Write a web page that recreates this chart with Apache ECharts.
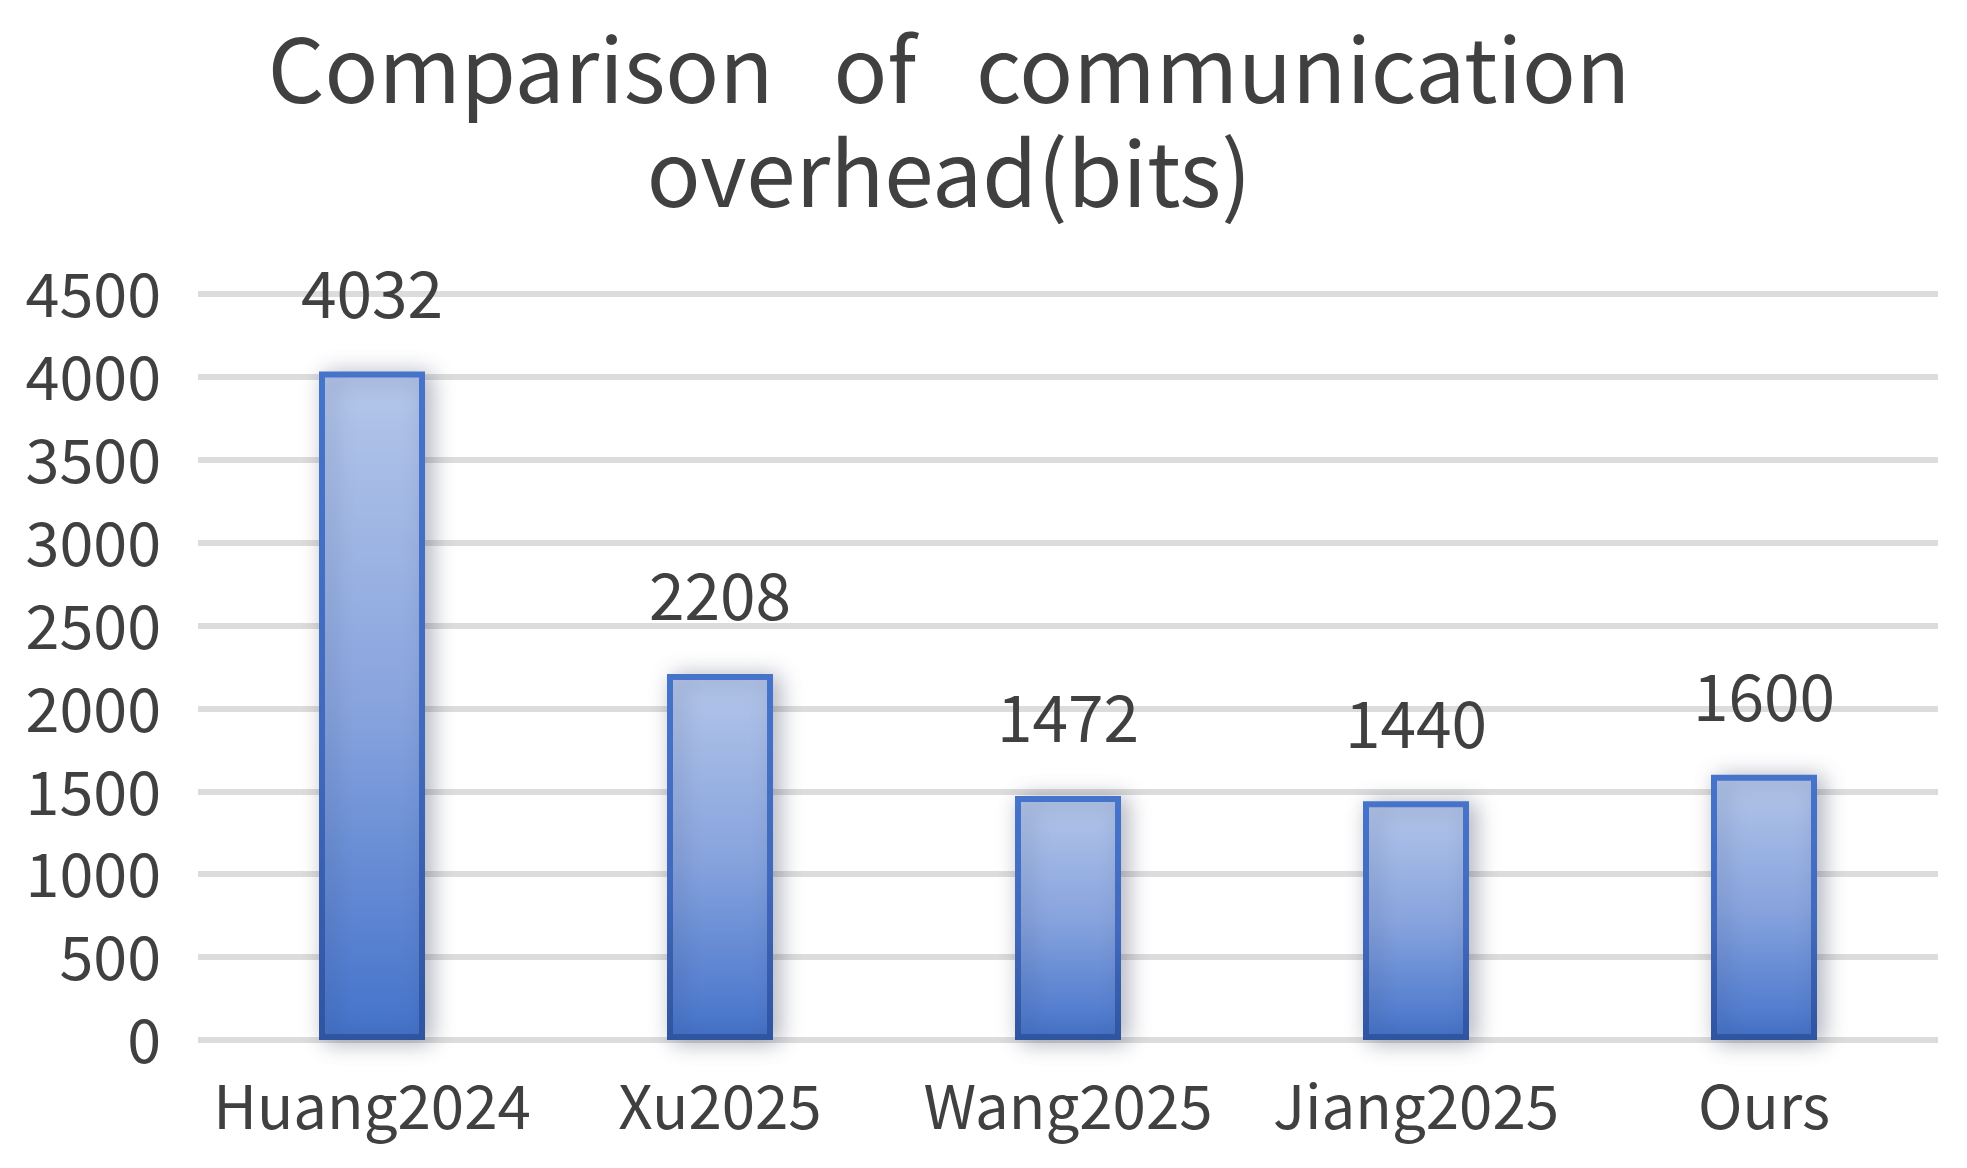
<!DOCTYPE html>
<html>
<head>
<meta charset="utf-8">
<title>Comparison of communication overhead</title>
<script src="https://cdn.jsdelivr.net/npm/echarts@6/dist/echarts.min.js"></script>
<style>
  html, body { margin: 0; padding: 0; background: #fff; }
  #main { width: 1967px; height: 1168px; }
</style>
</head>
<body>
<div id="main"></div>
<script>
// 数据
var categories = ['Huang2024', 'Xu2025', 'Wang2025', 'Jiang2025', 'Ours'];
var overheadBits = [4032, 2208, 1472, 1440, 1600];
var yTicks = { min: 0, max: 4500, interval: 500 };

var font = '"Noto Sans CJK SC", "Noto Sans", sans-serif';
var textColor = '#404040';

var chart = echarts.init(document.getElementById('main'));

var option = {
    backgroundColor: '#ffffff',
    animation: false,
    title: {
        text: 'Comparison   of   communication\noverhead(bits)',
        left: 944,
        top: 12,
        textAlign: 'center',
        textStyle: {
            fontFamily: font,
            fontSize: 89,
            fontWeight: 'normal',
            color: textColor,
            lineHeight: 104
        }
    },
    grid: {
        left: 198,
        right: 29,
        top: 294,
        bottom: 128
    },
    xAxis: {
        type: 'category',
        data: categories,
        axisLine: { show: false },
        axisTick: { show: false },
        axisLabel: {
            interval: 0,
            fontFamily: font,
            fontSize: 60,
            color: textColor,
            margin: 36
        }
    },
    yAxis: {
        type: 'value',
        min: yTicks.min,
        max: yTicks.max,
        interval: yTicks.interval,
        axisLine: { show: false },
        axisTick: { show: false },
        axisLabel: {
            fontFamily: font,
            fontSize: 61,
            color: textColor,
            margin: 37,
            formatter: function (v) { return String(v); }
        },
        splitLine: {
            lineStyle: { color: '#dcdcdc', width: 6 }
        }
    },
    series: [{
        type: 'bar',
        data: overheadBits,
        barWidth: 106,
        itemStyle: {
            color: new echarts.graphic.LinearGradient(0, 0, 0, 1, [
                { offset: 0, color: '#b4c6e9' },
                { offset: 0.5, color: '#88a4de' },
                { offset: 1, color: '#4372ca' }
            ]),
            borderColor: new echarts.graphic.LinearGradient(0, 0, 0, 1, [
                { offset: 0, color: '#4674cb' },
                { offset: 0.55, color: '#4169bd' },
                { offset: 1, color: '#2f54a0' }
            ]),
            borderWidth: 6,
            shadowColor: 'rgba(40, 50, 80, 0.35)',
            shadowBlur: 22,
            shadowOffsetX: 6,
            shadowOffsetY: 2
        },
        label: {
            show: true,
            position: 'top',
            distance: 46,
            fontFamily: font,
            fontSize: 64,
            color: textColor
        }
    }]
};

chart.setOption(option);
</script>
</body>
</html>
